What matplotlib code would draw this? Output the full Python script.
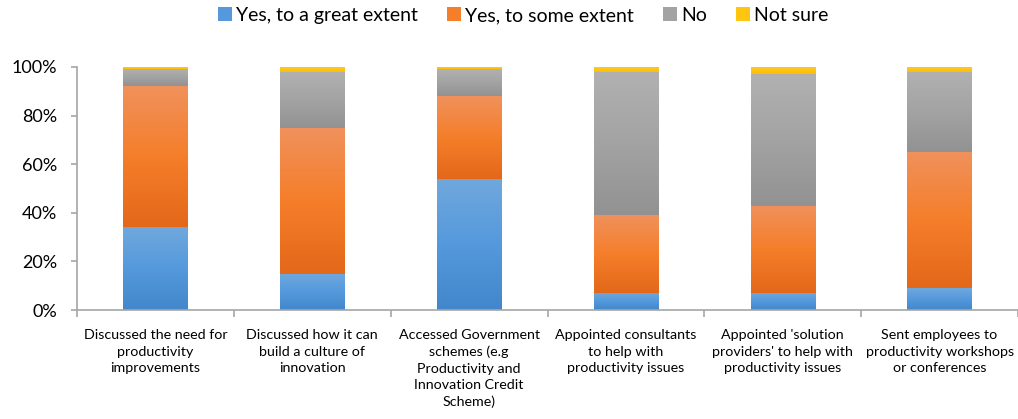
import numpy as np
import matplotlib
matplotlib.use("Agg")
import matplotlib.pyplot as plt
from matplotlib.colors import LinearSegmentedColormap
from matplotlib.patches import Patch
from matplotlib.ticker import PercentFormatter

plt.rcParams["font.family"] = ["Lato", "DejaVu Sans"]

# data (percent of respondents)
categories = [
    "Discussed the need for\nproductivity\nimprovements",
    "Discussed how it can\nbuild a culture of\ninnovation",
    "Accessed Government\nschemes (e.g\nProductivity and\nInnovation Credit\nScheme)",
    "Appointed consultants\nto help with\nproductivity issues",
    "Appointed 'solution\nproviders' to help with\nproductivity issues",
    "Sent employees to\nproductivity workshops\nor conferences",
]
great_extent = [34, 15, 54, 7, 7, 9]
some_extent = [58, 60, 34, 32, 36, 56]
no = [7, 23, 11, 59, 54, 33]
not_sure = [1, 2, 1, 2, 3, 2]

series = [
    ("Yes, to a great extent", great_extent, ["#4287CB", "#5599DC", "#70A8DD"]),
    ("Yes, to some extent", some_extent, ["#E3681A", "#F57E2A", "#F0915C"]),
    ("No", no, ["#929292", "#A3A3A3", "#B1B1B1"]),
    ("Not sure", not_sure, ["#FCBE00", "#FFC511", "#FBC636"]),
]

fig = plt.figure(figsize=(10.18, 4.19), dpi=100)
ax = fig.add_axes([0.0757, 0.2601, 0.9243, 0.5800])

x = np.arange(len(categories))
width = 0.41
grad = np.linspace(0, 1, 256).reshape(-1, 1)
bottom = np.zeros(len(categories))
handles = []
for name, vals, cols in series:
    vals = np.array(vals, dtype=float)
    bars = ax.bar(x, vals / 100, width, bottom=bottom / 100, color=cols[1], linewidth=0)
    cmap = LinearSegmentedColormap.from_list(name, cols)
    # gradient fill like the office chart (darker at the bottom)
    for b in bars:
        x0, y0 = b.get_x(), b.get_y()
        ax.imshow(grad, cmap=cmap, origin="lower", aspect="auto", interpolation="bicubic",
                  extent=(x0, x0 + b.get_width(), y0, y0 + b.get_height()), zorder=2)
    bottom += vals
    handles.append(Patch(facecolor=cols[1], label=name))

ax.set_xlim(-0.5, len(categories) - 0.5)
ax.set_ylim(0, 1)
ax.yaxis.set_major_formatter(PercentFormatter(1.0, decimals=0))
ax.set_yticks(np.arange(0, 1.01, 0.2))
ax.tick_params(axis="y", length=4.5, width=1.2, color="#A6A6A6", labelsize=13, pad=10)

ax.set_xticks(x)
ax.set_xticklabels(categories, fontsize=10.3, linespacing=1.42)
ax.tick_params(axis="x", which="major", length=0, pad=14)
ax.set_xticks(np.arange(-0.5, len(categories), 1), minor=True)
ax.tick_params(axis="x", which="minor", length=5, color="#A6A6A6", width=1.2)

for s in ["top", "right"]:
    ax.spines[s].set_visible(False)
for s in ["bottom", "left"]:
    ax.spines[s].set_color("#A6A6A6")
    ax.spines[s].set_linewidth(1.2)

fig.legend(handles=handles, loc="upper center", bbox_to_anchor=(0.514, 1.025), ncol=4,
           frameon=False, fontsize=14, handlelength=0.72, handleheight=0.72,
           handletextpad=0.2, columnspacing=1.5)

fig.savefig("out.png", dpi=100)
